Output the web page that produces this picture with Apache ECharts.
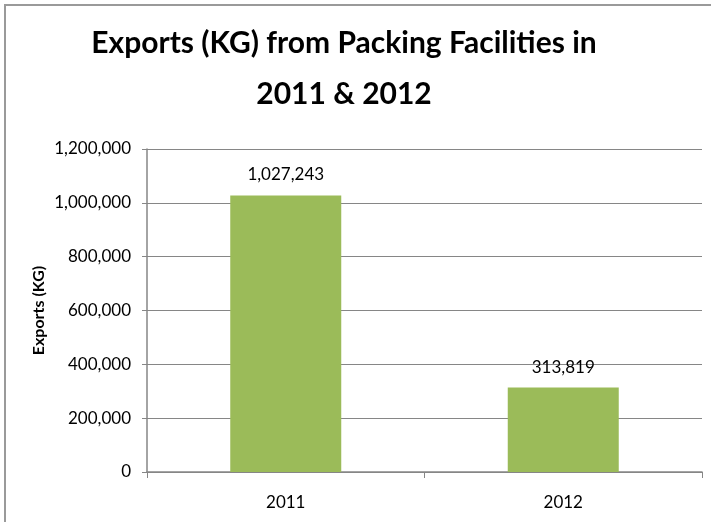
<!DOCTYPE html>
<html>
<head>
<meta charset="utf-8">
<script src="https://cdn.jsdelivr.net/npm/echarts@6/dist/echarts.min.js"></script>
<style>
  html, body { margin: 0; padding: 0; background: #fff; }
  #chart { width: 711px; height: 522px; }
</style>
</head>
<body>
<div id="chart"></div>
<script>
// Export volumes per year
const years = ['2011', '2012'];
const exportsKg = [1027243, 313819];
const yTicks = { min: 0, max: 1200000, step: 200000 };
const titleLines = ['Exports (KG) from Packing Facilities in', '2011 & 2012'];
const yAxisTitle = 'Exports (KG)';

const fmt = v => Number(v).toLocaleString('en-US');
const textFont = "Lato, 'Open Sans', sans-serif";
const gray = '#868686';

const chart = echarts.init(document.getElementById('chart'), null, { renderer: 'canvas' });
chart.setOption({
  animation: false,
  backgroundColor: '#fff',
  title: {
    text: titleLines.join('\n'),
    left: 339,
    top: 13,
    textAlign: 'center',
    textStyle: {
      fontFamily: textFont,
      fontWeight: 'bold',
      fontSize: 30,
      lineHeight: 51,
      color: '#000'
    }
  },
  graphic: [{
    type: 'rect',
    shape: { x: 5, y: 5, width: 740, height: 560 },
    style: { fill: 'none', stroke: '#9a9a9a', lineWidth: 2 },
    silent: true
  }],
  grid: { left: 147, right: 9, top: 149, bottom: 50, containLabel: false },
  xAxis: {
    type: 'category',
    data: years,
    boundaryGap: true,
    axisLine: { lineStyle: { color: gray, width: 1.5 } },
    axisTick: { show: true, length: 6, lineStyle: { color: gray } },
    axisLabel: { margin: 22, fontSize: 17, fontFamily: textFont, color: '#000' }
  },
  yAxis: {
    type: 'value',
    min: yTicks.min,
    max: yTicks.max,
    interval: yTicks.step,
    name: yAxisTitle,
    nameLocation: 'middle',
    nameRotate: 90,
    nameGap: 100,
    nameMoveOverlap: false,
    nameTextStyle: { fontFamily: textFont, fontWeight: 'bold', fontSize: 16, color: '#000' },
    axisLine: { show: true, lineStyle: { color: gray, width: 1.5 } },
    axisTick: { show: true, length: 5, lineStyle: { color: gray } },
    axisLabel: { margin: 16, fontSize: 17, fontFamily: textFont, color: '#000', formatter: v => fmt(v) },
    splitLine: { show: true, lineStyle: { color: gray, width: 1.2 } }
  },
  series: [{
    type: 'bar',
    data: exportsKg,
    barWidth: '40%',
    itemStyle: { color: '#9BBB59' },
    label: {
      show: true,
      position: 'top',
      distance: 12,
      fontSize: 17,
      fontFamily: textFont,
      color: '#000',
      formatter: p => fmt(p.value)
    }
  }]
});
</script>
</body>
</html>
